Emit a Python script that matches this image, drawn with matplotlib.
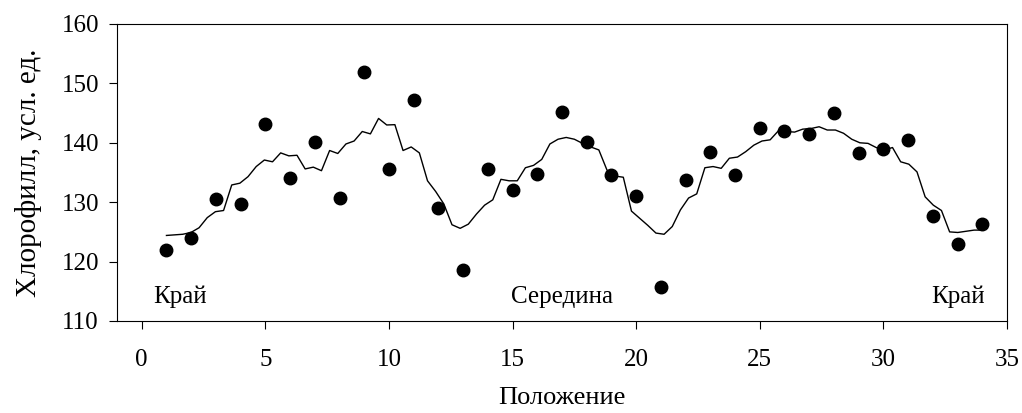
import numpy as np
import matplotlib.pyplot as plt

plt.rcParams['font.family'] = ['Liberation Serif', 'DejaVu Serif']

# Measured points
pos = list(range(1, 35))
chl = [122.0, 124.0, 130.5, 129.7, 143.2, 134.0, 140.1, 130.7, 151.9, 135.6,
       147.2, 129.0, 118.5, 135.6, 132.0, 134.7, 145.2, 140.1, 134.5, 131.1,
       115.8, 133.7, 138.4, 134.5, 142.5, 142.0, 141.5, 145.0, 138.2, 139.0,
       140.4, 127.6, 123.0, 126.4]

curve = [124.4, 124.5, 124.6, 124.9, 125.7, 127.4, 128.4, 128.6, 132.9, 133.2,
         134.3, 136.0, 137.1, 136.8, 138.3, 137.8, 137.9, 135.6, 135.9, 135.3,
         138.7, 138.2, 139.8, 140.3, 141.9, 141.5, 144.1, 143.0, 143.05, 138.7,
         139.3, 138.3, 133.6, 131.8, 129.7, 126.2, 125.6, 126.3, 128.0, 129.5,
         130.4, 133.85, 133.6, 133.6, 135.8, 136.2, 137.2, 139.8, 140.6, 140.9,
         140.6, 139.9, 139.3, 138.8, 135.4, 134.4, 134.2, 128.5, 127.3, 126.1,
         124.8, 124.6, 125.9, 128.7, 130.7, 131.4, 135.8, 136.0, 135.7, 137.4,
         137.6, 138.5, 139.6, 140.3, 140.5, 142.0, 141.9, 141.8, 142.3, 142.4,
         142.7, 142.15, 142.15, 141.6, 140.6, 140.0, 139.9, 139.2, 138.8, 139.2,
         136.8, 136.4, 135.1, 130.9, 129.5, 128.6, 125.0, 124.9, 125.1, 125.3,
         125.3]
curve_x = np.linspace(1, 34, len(curve))

fig = plt.figure(figsize=(10.22, 4.13), dpi=100)
ax = fig.add_axes([0.1145, 0.2228, 0.8708, 0.7191])

ax.plot(curve_x, curve, color='black', lw=1.0)
ax.plot(pos, chl, 'o', color='black', markersize=9)

ax.text(1.55, 114, 'Край', fontsize=18, ha='center', va='center')
ax.text(17.0, 114, 'Середина', fontsize=18, ha='center', va='center')
ax.text(33.0, 114, 'Край', fontsize=18, ha='center', va='center')

ax.set_xlim(-1, 35)
ax.set_ylim(110, 160)
ax.set_xticks(range(0, 36, 5))
ax.set_yticks(range(110, 161, 10))
ax.tick_params(axis='both', labelsize=18, direction='out', length=6, width=0.8)
ax.tick_params(axis='x', pad=14)
ax.tick_params(axis='y', pad=7)

ax.set_xlabel('Положение', fontsize=19, labelpad=12)
ax.set_ylabel('Хлорофилл, усл. ед.', fontsize=21, labelpad=14)

for s in ax.spines.values():
    s.set_linewidth(0.8)

fig.savefig('out.png', dpi=100)
